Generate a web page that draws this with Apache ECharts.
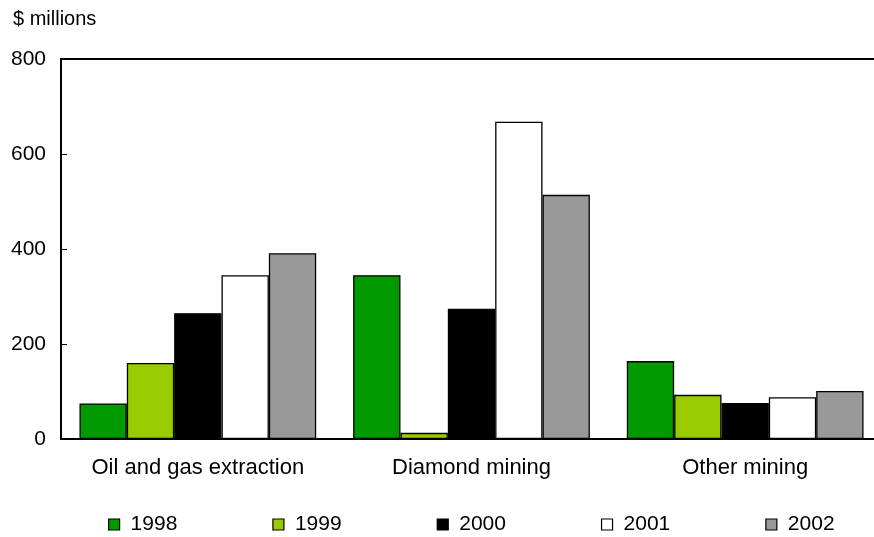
<!DOCTYPE html>
<html>
<head>
<meta charset="utf-8">
<script src="https://cdn.jsdelivr.net/npm/echarts@6/dist/echarts.min.js"></script>
<style>
  html, body { margin: 0; padding: 0; background: #fff; overflow: hidden; }
  /* the plot runs slightly past the right edge of the window */
  #chart { width: 882px; height: 537px; }
</style>
</head>
<body>
<div id="chart"></div>
<script>
// Industry categories along the horizontal axis
const categories = ['Oil and gas extraction', 'Diamond mining', 'Other mining'];

// Investment by year, $ millions
const years = ['1998', '1999', '2000', '2001', '2002'];
const values1998 = [75, 345, 164];
const values1999 = [160, 13, 93];
const values2000 = [265, 274, 76];
const values2001 = [345, 668, 88];
const values2002 = [391, 514, 101];

const yTicks = [0, 200, 400, 600, 800];

const seriesValues = [values1998, values1999, values2000, values2001, values2002];
const colors = ['#009900', '#99cc00', '#000000', '#ffffff', '#999999'];

const FONT = 'Liberation Sans, Arial, Helvetica, sans-serif';

const chart = echarts.init(document.getElementById('chart'));
chart.setOption({
  animation: false,
  title: {
    text: '$ millions',
    left: 8,
    top: 4,
    textStyle: { fontFamily: FONT, fontSize: 20, fontWeight: 'normal', color: '#000' }
  },
  legend: {
    data: years,
    left: 103,
    top: 509,
    itemWidth: 11,
    itemHeight: 11,
    itemGap: 95,
    icon: 'rect',
    textStyle: { fontFamily: FONT, fontSize: 21, color: '#000', padding: [0, 0, 0, 6] },
    itemStyle: { borderColor: '#000', borderWidth: 1.2 }
  },
  grid: { left: 61, top: 59, right: 0, height: 380, containLabel: false },
  xAxis: [
    {
      type: 'category',
      data: categories,
      axisLine: { lineStyle: { color: '#000', width: 2 } },
      axisTick: { show: false },
      axisLabel: { interval: 0, fontFamily: FONT, fontSize: 22, color: '#000', margin: 18 }
    },
    {
      type: 'category',
      position: 'top',
      data: categories,
      axisLine: { show: true, lineStyle: { color: '#000', width: 2 } },
      axisTick: { show: false },
      axisLabel: { show: false }
    }
  ],
  yAxis: {
    type: 'value',
    min: yTicks[0],
    max: yTicks[yTicks.length - 1],
    interval: 200,
    axisLine: { show: true, lineStyle: { color: '#000', width: 2 } },
    axisTick: { show: true, inside: true, length: 6, lineStyle: { color: '#000', width: 1 } },
    splitLine: { show: false },
    axisLabel: { fontFamily: FONT, fontSize: 21, color: '#000', margin: 15 }
  },
  series: years.map((y, i) => ({
    name: y,
    type: 'bar',
    data: seriesValues[i],
    barGap: 0,
    barCategoryGap: '13.5%',
    itemStyle: { color: colors[i], borderColor: '#000', borderWidth: 1.3 }
  }))
});
</script>
</body>
</html>
